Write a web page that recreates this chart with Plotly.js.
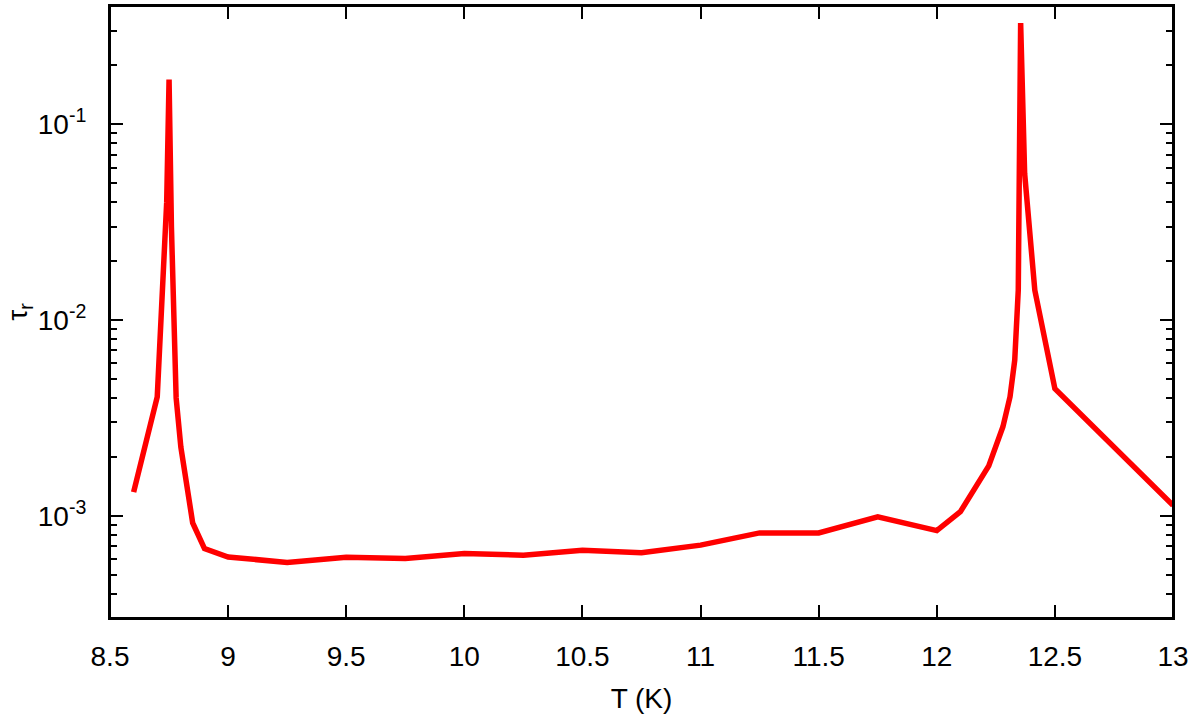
<!DOCTYPE html>
<html>
<head>
<meta charset="utf-8">
<script src="https://cdn.plot.ly/plotly-3.0.1.min.js"></script>
<style>
  html, body { margin: 0; padding: 0; background: #fff; overflow: hidden; }
  #chart { width: 1200px; height: 727px; }
</style>
</head>
<body>
<div id="chart"></div>
<script>
// Temperature (K)
const temperature = [
  8.6, 8.7, 8.74, 8.75, 8.76, 8.78, 8.8, 8.85, 8.9, 9.0,
  9.25, 9.5, 9.75, 10.0, 10.25, 10.5, 10.75, 11.0, 11.25, 11.5,
  11.75, 12.0, 12.1, 12.22, 12.28, 12.31, 12.33, 12.345, 12.355, 12.372,
  12.415, 12.5, 13.0
];
// tau_r
const tauR = [
  1.32e-3, 4.05e-3, 0.040, 0.169, 0.030, 4.0e-3, 2.24e-3, 9.2e-4, 6.8e-4, 6.16e-4,
  5.78e-4, 6.15e-4, 6.05e-4, 6.42e-4, 6.29e-4, 6.67e-4, 6.47e-4, 7.08e-4, 8.18e-4, 8.18e-4,
  9.87e-4, 8.4e-4, 1.05e-3, 1.8e-3, 2.85e-3, 4.05e-3, 6.24e-3, 0.0142, 0.329, 0.056,
  0.0142, 4.46e-3, 1.13e-3
];
const xTickVals = [8.5, 9, 9.5, 10, 10.5, 11, 11.5, 12, 12.5, 13];
const xTickText = ['8.5', '9', '9.5', '10', '10.5', '11', '11.5', '12', '12.5', '13'];
const yTickVals = [0.1, 0.01, 0.001];
const yTickText = ['10<sup>-1</sup>', '10<sup>-2</sup>', '10<sup>-3</sup>'];

const font = { family: 'Liberation Sans, Arial, Helvetica, sans-serif', size: 28, color: '#000' };

const trace = {
  x: temperature,
  y: tauR,
  type: 'scatter',
  mode: 'lines',
  line: { color: '#ff0000', width: 5.5 },
  hoverinfo: 'x+y'
};

const xRange = [8.5, 13];

const layout = {
  width: 1200,
  height: 727,
  margin: { l: 110, r: 27, t: 6, b: 109, pad: 0 },
  paper_bgcolor: '#fff',
  plot_bgcolor: '#fff',
  showlegend: false,
  font: font,
  xaxis: {
    range: xRange,
    tickmode: 'array',
    tickvals: xTickVals,
    ticktext: xTickText,
    ticks: 'inside',
    ticklen: 13,
    tickwidth: 2,
    tickcolor: '#000',
    showline: true,
    linecolor: '#000',
    linewidth: 2,
    mirror: 'allticks',
    showgrid: false,
    zeroline: false,
    ticklabelstandoff: 12,
    tickfont: font,
    title: { text: 'T (K)', font: font, standoff: 18 }
  },
  yaxis: {
    type: 'log',
    range: [-3.522, -0.396],
    tickmode: 'array',
    tickvals: yTickVals,
    ticktext: yTickText,
    ticks: 'inside',
    ticklen: 13,
    tickwidth: 2,
    tickcolor: '#000',
    minor: { ticks: 'inside', ticklen: 7, tickwidth: 2, tickcolor: '#000', showgrid: false, dtick: 'D1' },
    showline: true,
    linecolor: '#000',
    linewidth: 2,
    mirror: 'allticks',
    showgrid: false,
    zeroline: false,
    ticklabelstandoff: 16,
    tickfont: font,
    title: { text: 'τ<sub>r</sub>', font: font, standoff: 2 }
  },
  shapes: [
    { type: 'rect', xref: 'paper', yref: 'paper', x0: 0, x1: 1, y0: 0, y1: 1,
      line: { color: '#000', width: 2 }, fillcolor: 'rgba(0,0,0,0)', layer: 'above' }
  ]
};

Plotly.newPlot('chart', [trace], layout, { displayModeBar: false, staticPlot: true });
</script>
</body>
</html>
